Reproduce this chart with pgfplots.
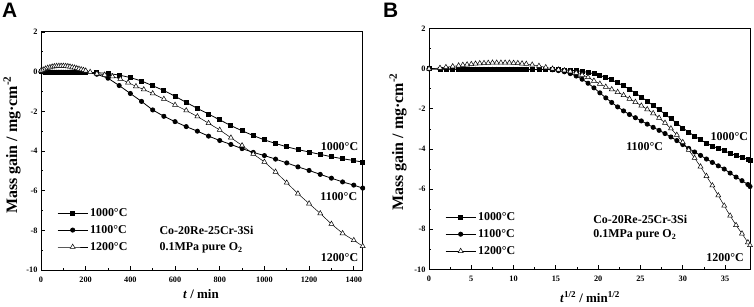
\documentclass[border=0pt]{standalone}
\usepackage{pgfplots}
\pgfplotsset{compat=1.18}
\usepackage{fontspec}
\setmainfont{Liberation Serif}
\newfontfamily\panelfont{Liberation Sans}
\tikzset{lab/.style={font=\fontsize{12}{13}\selectfont\bfseries}}
\begin{document}
\begin{tikzpicture}[x=1bp,y=1bp]
\useasboundingbox (0,0) rectangle (754,306);
\pgfplotsset{
  myaxis/.style={
    scale only axis,
    ymin=-10, ymax=2,
    ytick={-10,-8,...,2},
    minor y tick num=1,
    tick align=inside,
    xtick pos=left, ytick pos=left,
    axis line style={line width=1bp},
    major tick length=4bp, minor tick length=2.2bp,
    every tick/.style={black, line width=0.8bp},
    tick label style={font=\fontsize{8.3}{9}\selectfont\bfseries},
    xticklabel style={yshift=-3.5bp},
    /pgf/number format/assume math mode=true,
    /pgf/number format/1000 sep={},
    legend cell align=left,
    legend style={draw=none, fill=none, inner sep=0pt, row sep=3.5bp,
      font=\fontsize{12}{13}\selectfont\bfseries},
    legend image code/.code={\draw[mark repeat=2,mark phase=2] plot coordinates {(0bp,0bp) (15bp,0bp) (30bp,0bp)};},
    every axis plot/.append style={black, line width=0.8bp},
  },
  sq/.style={mark=square*, mark size=2bp, mark options={solid,fill=black}},
  ci/.style={mark=*, mark size=2.1bp, mark options={solid,fill=black}},
  tr/.style={mark=triangle*, mark size=2.9bp, mark options={solid,fill=white,line width=0.5bp}},
}
% ---------------- Panel A ----------------
\begin{axis}[myaxis, at={(41bp,36bp)}, anchor=south west,
  width=321.7bp, height=238bp,
  xmin=0, xmax=1440, xtick={0,200,...,1400}, minor x tick num=1,
  legend style={at={(rel axis cs:0.05,0.268)}, anchor=north west}]
\addplot[sq] table[row sep=\\] {
t m\\
0 0\\ 10 -0.01\\ 20 -0.02\\ 30 -0.02\\ 40 -0.03\\ 50 -0.03\\ 60 -0.03\\ 70 -0.03\\ 80 -0.03\\ 90 -0.03\\
100 -0.03\\ 110 -0.03\\ 120 -0.03\\ 130 -0.03\\ 140 -0.03\\ 150 -0.03\\ 160 -0.03\\ 170 -0.03\\ 180 -0.03\\ 190 -0.03\\ 200 -0.03\\
250 -0.05\\ 300 -0.09\\ 350 -0.17\\ 400 -0.30\\ 450 -0.47\\ 500 -0.71\\ 550 -0.95\\ 600 -1.24\\ 650 -1.55\\
700 -1.85\\ 750 -2.14\\ 800 -2.43\\ 850 -2.72\\ 900 -2.98\\ 950 -3.22\\ 1000 -3.44\\ 1050 -3.62\\ 1100 -3.79\\
1150 -3.93\\ 1200 -4.05\\ 1250 -4.17\\ 1300 -4.29\\ 1350 -4.39\\ 1400 -4.48\\ 1440 -4.56\\
};
\addlegendentry{1000°C}
\addplot[ci] table[row sep=\\] {
t m\\
0 0\\ 10 -0.01\\ 20 -0.02\\ 30 -0.02\\ 40 -0.03\\ 50 -0.03\\ 60 -0.03\\ 70 -0.03\\ 80 -0.03\\ 90 -0.03\\
100 -0.03\\ 110 -0.03\\ 120 -0.03\\ 130 -0.03\\ 140 -0.03\\ 150 -0.03\\ 160 -0.03\\ 170 -0.03\\ 180 -0.03\\ 190 -0.03\\ 200 -0.03\\
250 -0.13\\ 300 -0.33\\ 350 -0.70\\ 400 -1.10\\ 450 -1.50\\ 500 -1.93\\ 550 -2.25\\ 600 -2.52\\ 650 -2.77\\
700 -3.00\\ 750 -3.25\\ 800 -3.47\\ 850 -3.67\\ 900 -3.88\\ 950 -4.07\\ 1000 -4.23\\ 1050 -4.41\\ 1100 -4.60\\
1150 -4.80\\ 1200 -4.98\\ 1250 -5.18\\ 1300 -5.37\\ 1350 -5.56\\ 1400 -5.72\\ 1440 -5.87\\
};
\addlegendentry{1100°C}
\addplot[tr, line width=0.5bp] table[row sep=\\] {
t m\\
0 0.05\\ 10 0.10\\ 20 0.15\\ 30 0.19\\ 40 0.22\\ 50 0.25\\ 60 0.27\\ 70 0.28\\ 80 0.29\\ 90 0.29\\
100 0.29\\ 110 0.28\\ 120 0.27\\ 130 0.25\\ 140 0.22\\ 150 0.20\\ 160 0.17\\ 170 0.14\\ 180 0.11\\ 190 0.08\\ 200 0.05\\
220 -0.02\\ 250 -0.10\\ 285 -0.16\\ 320 -0.24\\ 355 -0.37\\ 390 -0.55\\ 425 -0.74\\ 460 -0.90\\ 500 -1.10\\
550 -1.38\\ 600 -1.68\\ 650 -1.96\\ 700 -2.26\\ 750 -2.60\\ 800 -2.94\\ 850 -3.33\\ 900 -3.72\\ 950 -4.15\\
1000 -4.55\\ 1050 -5.05\\ 1100 -5.60\\ 1150 -6.15\\ 1200 -6.65\\ 1250 -7.15\\ 1300 -7.68\\ 1350 -8.15\\ 1400 -8.50\\ 1440 -8.80\\
};
\addlegendentry{1200°C}
\node[lab] at (axis cs:1336,-3.78) {1000°C};
\node[lab] at (axis cs:1333,-6.30) {1100°C};
\node[lab] at (axis cs:1336,-9.37) {1200°C};
\node[lab, anchor=west, inner sep=0pt] at (axis cs:530,-8.0) {Co-20Re-25Cr-3Si};
\node[lab, anchor=west, inner sep=0pt] at (axis cs:530,-8.87) {0.1MPa pure O\textsubscript{2}};
\end{axis}
% ---------------- Panel B ----------------
\begin{axis}[myaxis, at={(429bp,36.7bp)}, anchor=south west,
  width=321bp, height=240.6bp,
  xmin=0, xmax=37.95, xtick={0,5,...,35}, minor x tick num=1,
  legend style={at={(rel axis cs:0.05,0.245)}, anchor=north west}]
\addplot[sq] table[row sep=\\] {
u m\\
0 0\\ 1.3 -0.01\\ 2.0 -0.01\\ 2.8 -0.02\\ 3.5 -0.03\\ 4.0 -0.03\\ 4.5 -0.03\\ 5.0 -0.03\\ 5.5 -0.03\\ 6.0 -0.03\\
6.5 -0.03\\ 7.0 -0.03\\ 7.5 -0.03\\ 8.0 -0.03\\ 8.5 -0.03\\ 9.0 -0.03\\ 9.5 -0.03\\ 10.0 -0.03\\ 10.5 -0.03\\ 11.0 -0.03\\
11.5 -0.03\\ 12.2 -0.03\\ 13.0 -0.03\\ 13.8 -0.03\\ 14.6 -0.035\\ 15.3 -0.045\\ 16.0 -0.055\\ 16.7 -0.07\\ 17.4 -0.095\\
18.1 -0.13\\ 18.8 -0.18\\ 19.5 -0.25\\ 20.2 -0.33\\ 20.9 -0.43\\ 21.6 -0.55\\ 22.3 -0.70\\ 23.0 -0.85\\ 23.7 -1.02\\
24.4 -1.21\\ 25.1 -1.41\\ 25.8 -1.62\\ 26.5 -1.83\\ 27.2 -2.04\\ 27.9 -2.26\\ 28.6 -2.49\\ 29.3 -2.72\\ 30.0 -2.95\\
30.7 -3.16\\ 31.4 -3.36\\ 32.1 -3.54\\ 32.8 -3.71\\ 33.5 -3.85\\ 34.2 -3.98\\ 34.9 -4.09\\ 35.6 -4.21\\ 36.3 -4.33\\
37.0 -4.42\\ 37.7 -4.52\\ 37.95 -4.56\\
};
\addlegendentry{1000°C}
\addplot[ci] table[row sep=\\] {
u m\\
0 0\\ 1.3 -0.01\\ 2.0 -0.01\\ 2.8 -0.02\\ 3.5 -0.03\\ 4.0 -0.03\\ 4.5 -0.03\\ 5.0 -0.03\\ 5.5 -0.03\\ 6.0 -0.03\\
6.5 -0.03\\ 7.0 -0.03\\ 7.5 -0.03\\ 8.0 -0.03\\ 8.5 -0.03\\ 9.0 -0.03\\ 9.5 -0.03\\ 10.0 -0.03\\ 10.5 -0.03\\ 11.0 -0.03\\
11.5 -0.03\\ 12.2 -0.03\\ 13.0 -0.03\\ 13.8 -0.03\\ 14.6 -0.05\\ 15.3 -0.09\\ 16.0 -0.15\\ 16.7 -0.24\\ 17.4 -0.36\\
18.1 -0.52\\ 18.8 -0.72\\ 19.5 -0.95\\ 20.2 -1.20\\ 20.9 -1.45\\ 21.6 -1.68\\ 22.3 -1.90\\ 23.0 -2.10\\ 23.7 -2.28\\
24.4 -2.44\\ 25.1 -2.60\\ 25.8 -2.76\\ 26.5 -2.92\\ 27.2 -3.07\\ 27.9 -3.23\\ 28.6 -3.40\\ 29.3 -3.58\\ 30.0 -3.78\\
30.7 -3.97\\ 31.4 -4.15\\ 32.1 -4.32\\ 32.8 -4.50\\ 33.5 -4.67\\ 34.2 -4.84\\ 34.9 -5.00\\ 35.6 -5.20\\ 36.3 -5.40\\
37.0 -5.58\\ 37.7 -5.77\\ 37.95 -5.87\\
};
\addlegendentry{1100°C}
\addplot[tr, line width=0.5bp] table[row sep=\\] {
u m\\
0 0.00\\ 1.3 0.04\\ 2.0 0.08\\ 2.8 0.12\\ 3.5 0.16\\ 4.0 0.19\\ 4.5 0.21\\ 5.0 0.23\\ 5.5 0.25\\ 6.0 0.27\\
6.5 0.28\\ 7.0 0.29\\ 7.5 0.30\\ 8.0 0.30\\ 8.5 0.30\\ 9.0 0.30\\ 9.5 0.30\\ 10.0 0.29\\ 10.5 0.28\\ 11.0 0.26\\
11.5 0.24\\ 12.2 0.20\\ 13.0 0.14\\ 13.8 0.07\\ 14.6 0.00\\ 15.3 -0.04\\ 16.0 -0.08\\ 16.7 -0.13\\ 17.4 -0.20\\
18.1 -0.30\\ 18.8 -0.42\\ 19.5 -0.60\\ 20.2 -0.75\\ 20.9 -0.90\\ 21.6 -1.03\\ 22.3 -1.16\\ 23.0 -1.32\\ 23.7 -1.50\\
24.4 -1.66\\ 25.1 -1.84\\ 25.8 -2.02\\ 26.5 -2.22\\ 27.2 -2.45\\ 27.9 -2.70\\ 28.6 -2.98\\ 29.3 -3.30\\ 30.0 -3.66\\
30.7 -4.05\\ 31.4 -4.45\\ 32.1 -4.88\\ 32.8 -5.35\\ 33.5 -5.82\\ 34.2 -6.32\\ 34.9 -6.83\\ 35.6 -7.33\\ 36.3 -7.80\\
37.0 -8.22\\ 37.7 -8.66\\ 37.95 -8.80\\
};
\addlegendentry{1200°C}
\node[lab] at (axis cs:35.5,-3.40) {1000°C};
\node[lab] at (axis cs:25.5,-3.90) {1100°C};
\node[lab] at (axis cs:35.0,-9.40) {1200°C};
\node[lab, anchor=west, inner sep=0pt] at (axis cs:19.4,-7.5) {Co-20Re-25Cr-3Si};
\node[lab, anchor=west, inner sep=0pt] at (axis cs:19.4,-8.3) {0.1MPa pure O\textsubscript{2}};
\end{axis}
% ---------------- labels ----------------
\node[font=\panelfont\bfseries\fontsize{21}{22}\selectfont, anchor=north west, inner sep=0pt] at (2,303) {A};
\node[font=\panelfont\bfseries\fontsize{21}{22}\selectfont, anchor=north west, inner sep=0pt] at (383,303) {B};
\node[font=\fontsize{13}{14}\selectfont\bfseries, anchor=base] at (201,8) {\textit{t} / min};
\node[font=\fontsize{13}{14}\selectfont\bfseries, anchor=base] at (590,4) {\textit{t}\textsuperscript{1/2} / min\textsuperscript{1/2}};
\node[font=\fontsize{16}{17}\selectfont\bfseries, rotate=90] at (12,161) {Mass gain / mg·cm\textsuperscript{-2}};
\node[font=\fontsize{16}{17}\selectfont\bfseries, rotate=90] at (398,164) {Mass gain / mg·cm\textsuperscript{-2}};
\end{tikzpicture}
\end{document}
